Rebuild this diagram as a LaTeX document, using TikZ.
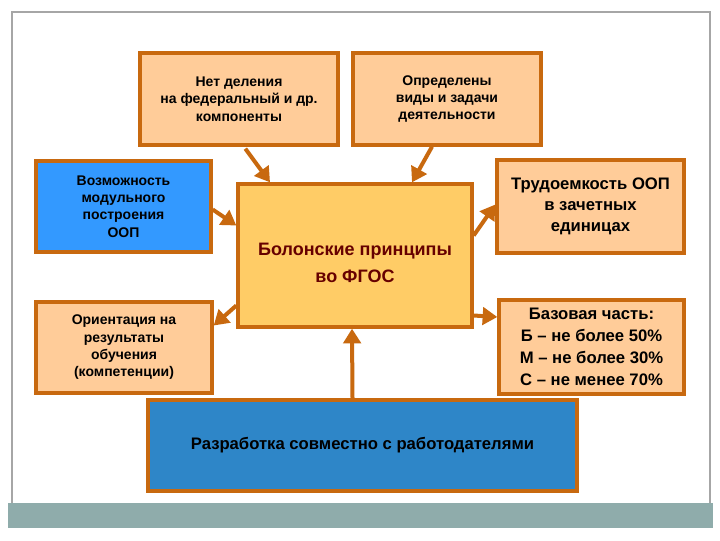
\documentclass[tikz,border=0pt]{standalone}
\usepackage{fontspec}
\setmainfont{Liberation Sans}
\usetikzlibrary{arrows.meta}
\definecolor{org}{HTML}{C8690F}
\definecolor{peach}{HTML}{FFCC99}
\definecolor{gold}{HTML}{FFCC66}
\definecolor{blu}{HTML}{3399FF}
\definecolor{blu2}{HTML}{2E86C8}
\definecolor{teal}{HTML}{8FACAB}
\definecolor{dred}{HTML}{660000}
\tikzset{
 bx/.style={draw=org,line width=2.5pt,align=center,font=\bfseries,inner sep=0pt},
 arr/.style={draw=org,line width=3pt,-{Triangle[length=11pt,width=13pt]}}
}
\begin{document}
\begin{tikzpicture}[x=0.75pt,y=-0.75pt]
\useasboundingbox (0,0) rectangle (720,540);
\fill[white] (0,0) rectangle (720,540);
\draw[gray!70,line width=0.8pt] (12,503) -- (12,12) -- (710,12) -- (710,503);
\node[fill=teal,minimum width=705*0.75pt,minimum height=25*0.75pt,inner sep=0pt,anchor=north west] (bar) at (8,503) {};
\node[bx,fill=peach,minimum width=198*0.75pt,minimum height=92*0.75pt,font=\bfseries\fontsize{10.5}{13}\selectfont] (a) at (239,99) {Нет деления\\на федеральный и др.\\компоненты};
\node[bx,fill=peach,minimum width=188*0.75pt,minimum height=92*0.75pt,font=\bfseries\fontsize{10.5}{13}\selectfont] (b) at (447,99) {Определены\\виды и задачи\\деятельности};
\node[bx,fill=blu,minimum width=175*0.75pt,minimum height=91*0.75pt,font=\bfseries\fontsize{10.5}{13}\selectfont] (c) at (123.5,206.5) {Возможность\\модульного\\построения\\ООП};
\node[bx,fill=peach,minimum width=176*0.75pt,minimum height=91*0.75pt,font=\bfseries\fontsize{10.5}{13}\selectfont] (d) at (124,347.5) {Ориентация на\\результаты\\обучения\\(компетенции)};
\node[bx,fill=gold,minimum width=234*0.75pt,minimum height=143*0.75pt,text=dred,font=\bfseries\fontsize{13.5}{20}\selectfont] (m) at (355,255.5) {\\Болонские принципы\\во ФГОС};
\node[bx,fill=peach,minimum width=187*0.75pt,minimum height=93*0.75pt,font=\bfseries\fontsize{12.5}{16}\selectfont] (e) at (590.5,206.5) {Трудоемкость ООП\\в зачетных\\единицах};
\node[bx,fill=peach,minimum width=185*0.75pt,minimum height=94*0.75pt,font=\bfseries\fontsize{12.5}{16.5}\selectfont] (f) at (591.5,347) {Базовая часть:\\Б – не более 50\%\\М – не более 30\%\\С – не менее 70\%};
\node[bx,fill=blu2,minimum width=429*0.75pt,minimum height=91*0.75pt,font=\bfseries\fontsize{12.5}{14}\selectfont] (g) at (362.5,445.5) {Разработка совместно с работодателями};
\draw[arr] (a.south west)++(107,2) -- ([xshift=-85*0.75pt]m.north);
\draw[arr] ([xshift=-15*0.75pt]b.south) -- ([xshift=57*0.75pt]m.north);
\draw[arr] ([yshift=-3*0.75pt]c.east) -- ([yshift=30*0.75pt]m.west);
\draw[arr] ([yshift=-50*0.75pt]m.west) -- ([yshift=22*0.75pt]d.east);
\draw[arr] ([yshift=20*0.75pt]m.east) -- ([yshift=2*0.75pt]e.west);
\draw[arr] ([yshift=-60*0.75pt]m.east) -- ([yshift=30*0.75pt]f.west);
\draw[arr] ([xshift=-10*0.75pt]g.north) -- ([xshift=-3*0.75pt]m.south);
\end{tikzpicture}
\end{document}
